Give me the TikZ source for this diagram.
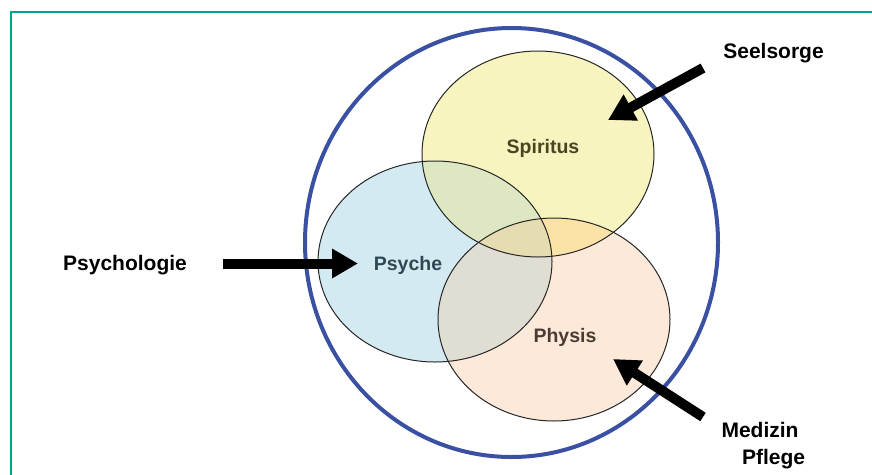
\documentclass[tikz,border=0pt]{standalone}
\usepackage{fontspec}
\setmainfont{Liberation Sans}
\usepackage{xcolor}
\usepackage{tikz}
\usetikzlibrary{arrows.meta}

\definecolor{frameteal}{HTML}{00A08C}
\definecolor{ringblue}{HTML}{3A50A2}
\definecolor{spiritfill}{HTML}{F8F4C0}
\definecolor{psychefill}{HTML}{D3EAF3}
\definecolor{physisfill}{HTML}{FDE9D9}
\definecolor{spiritpsyche}{HTML}{DDE8C3}
\definecolor{psychephysis}{HTML}{E0DDD3}
\definecolor{spiritphysis}{HTML}{FBE3A8}
\definecolor{allthree}{HTML}{E6DCB2}

\newcommand{\spiritpath}{(538,154) ellipse [x radius=116pt, y radius=103pt]}
\newcommand{\psychepath}{(435,261.5) ellipse [x radius=117pt, y radius=100.5pt]}
\newcommand{\physispath}{(554,319.5) ellipse [x radius=116pt, y radius=101.5pt]}

\begin{document}
\begin{tikzpicture}[x=1pt, y=-1pt,
    label/.style={font=\fontsize{21}{25}\selectfont\bfseries, anchor=base, inner sep=0pt},
    part/.style={font=\fontsize{19.5}{23}\selectfont\bfseries, anchor=base, inner sep=0pt},
    outline/.style={black!85, line width=1pt},
    bigarrow/.style={line width=10pt, -{Triangle[length=26pt, width=28pt]}}]
    \useasboundingbox (0,0) rectangle (872,474);
    \draw[frameteal, line width=2pt] (11,480) -- (11,12) -- (880,12);

    \draw[ringblue, line width=4pt] (511.5,242.5) ellipse [x radius=206.5pt, y radius=214.5pt];

    \fill[spiritfill] \spiritpath;
    \fill[psychefill] \psychepath;
    \fill[physisfill] \physispath;
    \begin{scope}
        \clip \spiritpath;
        \fill[spiritpsyche] \psychepath;
        \fill[spiritphysis] \physispath;
        \clip \psychepath;
        \fill[allthree] \physispath;
    \end{scope}
    \begin{scope}
        \clip \psychepath;
        \clip \physispath;
        \fill[psychephysis] (300,150) rectangle (680,430);
        \clip \spiritpath;
        \fill[allthree] (300,150) rectangle (680,430);
    \end{scope}
    \draw[outline] \spiritpath;
    \draw[outline] \psychepath;
    \draw[outline] \physispath;

    \node[part, text={rgb,255:red,74;green,68;blue,34}] (spiritus) at (543,153) {Spiritus};
    \node[part, text={rgb,255:red,46;green,72;blue,84}] (psyche) at (408,270) {Psyche};
    \node[part, text={rgb,255:red,74;green,60;blue,52}] (physis) at (565,342) {Physis};

    \node[label] (psychologie) at (125,270) {Psychologie};
    \node[label] (seelsorge) at (773.5,58) {Seelsorge};
    \node[label] (medizin) at (760,437) {Medizin};
    \node[label] (pflege) at (773.5,464) {Pflege};

    \coordinate (psy-tail) at (223,263.5);
    \coordinate (psy-tip) at (358,263.5);
    \coordinate (seel-tail) at (703,68);
    \coordinate (seel-tip) at (608,120);
    \coordinate (med-tail) at (703,417);
    \coordinate (med-tip) at (613,359);

    \draw[bigarrow] (psy-tail) -- (psy-tip);
    \draw[bigarrow] (seel-tail) -- (seel-tip);
    \draw[bigarrow] (med-tail) -- (med-tip);
\end{tikzpicture}
\end{document}
